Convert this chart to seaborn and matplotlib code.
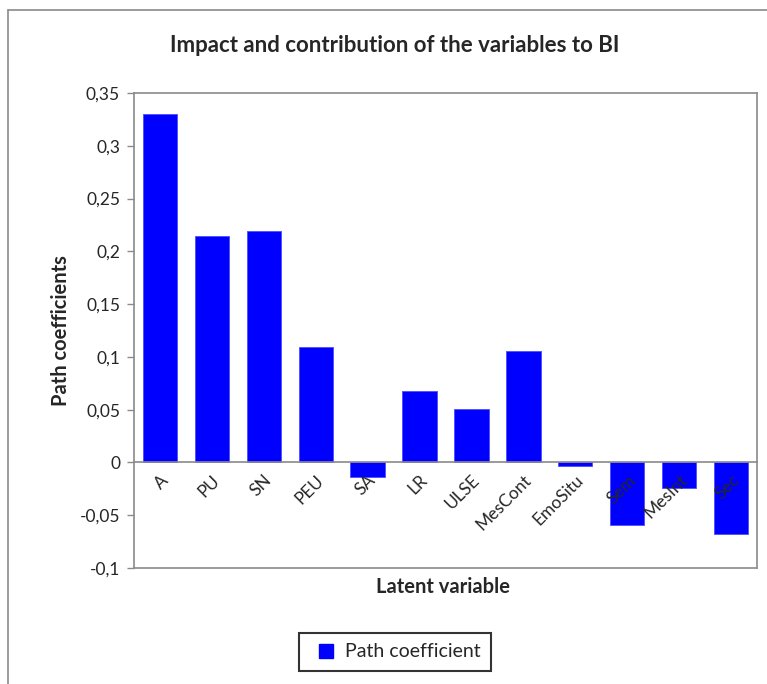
import matplotlib
matplotlib.use("Agg")
import matplotlib.pyplot as plt
from matplotlib.lines import Line2D
import seaborn as sns
import pandas as pd

categories = ["A", "PU", "SN", "PEU", "SA", "LR", "ULSE", "MesCont",
              "EmoSitu", "Sem", "MesInt", "Sec"]
path_coefficients = [0.330, 0.215, 0.219, 0.109, -0.014, 0.068, 0.051, 0.106,
                     -0.003, -0.059, -0.024, -0.068]
y_ticks = [-0.1, -0.05, 0, 0.05, 0.1, 0.15, 0.2, 0.25, 0.3, 0.35]
y_tick_labels = ["-0,1", "-0,05", "0", "0,05", "0,1", "0,15", "0,2", "0,25", "0,3", "0,35"]

sns.set_style("white")
plt.rcParams["font.family"] = ["Lato", "DejaVu Sans"]

df = pd.DataFrame({"variable": categories, "coef": path_coefficients})

grey = "#8a8a8a"
fig = plt.figure(figsize=(7.67, 6.84), dpi=100)
ax = fig.add_axes([0.1747, 0.1696, 0.8123, 0.6944])

sns.barplot(data=df, x="variable", y="coef", color="#0000FF", saturation=1,
            width=0.66, ax=ax, edgecolor="#4d4dff", linewidth=0.6)

ax.set_axisbelow(False)
ax.set_ylim(-0.1, 0.35)
ax.set_xlim(-0.5, len(categories) - 0.5)
ax.set_yticks(y_ticks)
ax.set_yticklabels(y_tick_labels, fontsize=12.5)

# category axis runs along zero
ax.spines["bottom"].set_position(("data", 0))
for side in ["bottom", "left", "top", "right"]:
    ax.spines[side].set_color(grey)
    ax.spines[side].set_linewidth(1.2)
ax.plot([0, 1], [0, 0], transform=ax.transAxes, color=grey, lw=1.2, clip_on=False)

ax.tick_params(axis="y", direction="out", length=5, color=grey, width=1, pad=5, left=True)
ax.tick_params(axis="x", length=0, pad=7)
ax.set_xticks(range(len(categories)))
ax.set_xticklabels(categories, rotation=45, ha="right", rotation_mode="anchor", fontsize=12.5)

ax.set_xlabel("")
ax.set_ylabel("Path coefficients", fontsize=14.5, fontweight="bold", labelpad=6)
fig.text(0.577, 0.142, "Latent variable", fontsize=14.5, fontweight="bold",
         ha="center", va="center")
fig.text(0.515, 0.934, "Impact and contribution of the variables to BI",
         fontsize=16, fontweight="bold", ha="center", va="center")

# outer chart frame (top and left edges)
fig.add_artist(Line2D([0.0104, 0.0104], [0.0, 0.985], color=grey, lw=1.2))
fig.add_artist(Line2D([0.0104, 1.0], [0.985, 0.985], color=grey, lw=1.2))

handle = Line2D([], [], marker="s", linestyle="none", markersize=10,
                markerfacecolor="#0000FF", markeredgecolor="#0000FF")
leg = fig.legend([handle], ["Path coefficient"], loc="center",
                 bbox_to_anchor=(0.5155, 0.0468), fontsize=14, frameon=True,
                 fancybox=False, edgecolor="black", handletextpad=0.2,
                 borderpad=0.55, handlelength=1.6, borderaxespad=0)
leg.get_frame().set_linewidth(1.5)

fig.savefig("out.png", dpi=100)
